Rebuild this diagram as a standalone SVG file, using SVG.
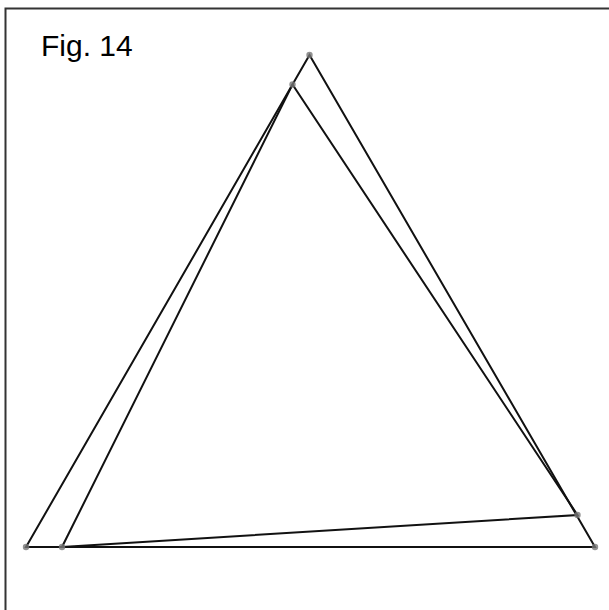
<svg xmlns="http://www.w3.org/2000/svg" width="609" height="610" viewBox="0 0 609 610">
<style>
.edge{stroke:#111;stroke-width:2;fill:none;stroke-linejoin:miter}
.pt{fill:#777;opacity:0.8}
.frame{stroke:#333;stroke-width:2;fill:none}
</style>
<rect width="609" height="610" fill="#fff"/>
<path class="frame" d="M5.5,612 V8.5 H612"/>
<text x="41" y="56" font-family="Liberation Sans, Arial, sans-serif" font-size="30" fill="#000">Fig. 14</text>
<g id="connectors">
<polygon class="edge" points="26,547 595,547 309.5,55"/>
<polygon class="edge" points="62,547 577.5,515 292.5,84.5"/>
</g>
<g id="A"><circle class="pt" cx="26" cy="547" r="3.2"/></g>
<g id="B"><circle class="pt" cx="595" cy="547" r="3.2"/></g>
<g id="C"><circle class="pt" cx="309.5" cy="55" r="3.2"/></g>
<g id="D"><circle class="pt" cx="62" cy="547" r="3.2"/></g>
<g id="E"><circle class="pt" cx="577.5" cy="515" r="3.2"/></g>
<g id="F"><circle class="pt" cx="292.5" cy="84.5" r="3.2"/></g>
</svg>
